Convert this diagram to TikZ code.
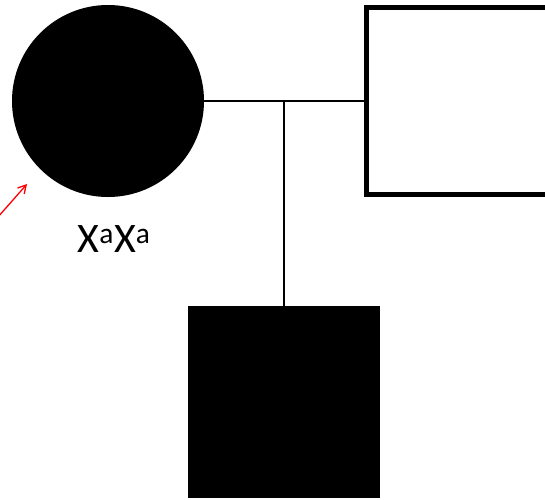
\documentclass[tikz,border=0pt]{standalone}
\usepackage{fontspec}
\setmainfont{Carlito}
\usetikzlibrary{arrows.meta}
\begin{document}
\begin{tikzpicture}[x=1pt,y=-1pt,
  female/.style={circle,fill=black,draw=none,minimum size=192pt,inner sep=0pt},
  maleopen/.style={rectangle,draw=black,line width=5pt,fill=white,minimum size=187pt,inner sep=0pt},
  malefill/.style={rectangle,fill=black,draw=none,minimum size=192pt,inner sep=0pt},
  link/.style={line width=2pt,black},
  genotype/.style={font=\fontsize{42}{46}\selectfont,inner sep=0pt}]
\useasboundingbox (0,0) rectangle (545,499);
\node[female] (mother) at (108,101) {};
\node[maleopen] (father) at (460,101) {};
\node[malefill] (son) at (284,402) {};
\coordinate (mid) at (284,101);
\draw[link] (mother.east) -- (father.west);
\draw[link] (mid) -- (son.north);
\node[genotype] (geno) at (114,239) {X\textsuperscript{a}X\textsuperscript{a}};
\coordinate (arrtail) at (-2,217);
\coordinate (arrtip) at (27,184);
\draw[red,line width=1.3pt,-{Straight Barb[length=8pt,width=9pt]}] (arrtail) -- (arrtip);
\end{tikzpicture}
\end{document}
